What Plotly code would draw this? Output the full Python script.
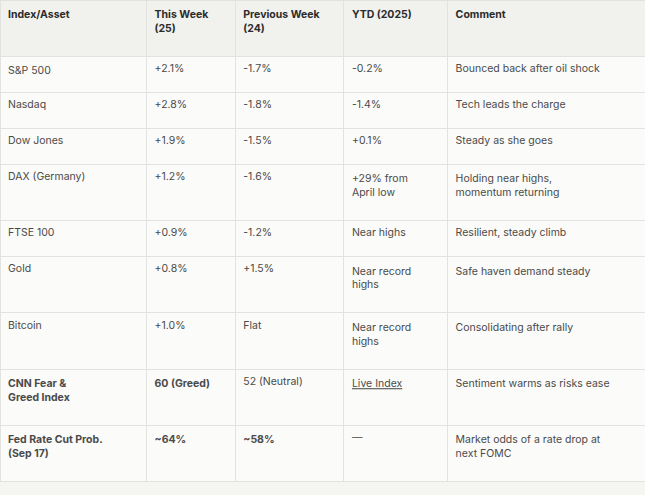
import plotly.graph_objects as go

header = ["<b>Index/Asset</b>", "<b>This Week<br>(25)</b><br> ", "<b>Previous Week<br>(24)</b>", "<b>YTD (2025)</b>", "<b>Comment</b>"]
assets = ["S&P 500", "Nasdaq", "Dow Jones", "DAX (Germany)", "FTSE 100", "Gold", "Bitcoin",
          "<b>CNN Fear &<br>Greed Index</b>", "<b>Fed Rate Cut Prob.<br>(Sep 17)</b>"]
this_week = ["+2.1%", "+2.8%", "+1.9%", "+1.2%", "+0.9%", "+0.8%", "+1.0%", "<b>60 (Greed)</b>", "<b>~64%</b>"]
prev_week = ["-1.7%", "-1.8%", "-1.5%", "-1.6%", "-1.2%", "+1.5%", "Flat", "52 (Neutral)", "<b>~58%</b>"]
ytd = ["-0.2%", "-1.4%", "+0.1%", "+29% from<br>April low", "Near highs", "Near record<br>highs",
       "Near record<br>highs", "<u>Live Index</u>", "—"]
comment = ["Bounced back after oil shock", "Tech leads the charge", "Steady as she goes",
           "Holding near highs,<br>momentum returning", "Resilient, steady climb",
           "Safe haven demand steady", "Consolidating after rally",
           "Sentiment warms as risks ease", "Market odds of a rate drop at<br>next FOMC"]
# trailing blank lines give the two-line rows their extra height
spacer = ["", "", "", "<br> ", "", "<br> <br> ", "<br> <br> ", "<br> <br> ", "<br> "]
comment = [c + s for c, s in zip(comment, spacer)]

fig = go.Figure(go.Table(
    domain=dict(x=[0, 1], y=[0, 1]),
    columnwidth=[147, 89, 109, 104, 198],
    header=dict(values=header, fill_color="#f1f1ee", line_color="#e2e2de", align="left",
                font=dict(family="Inter", size=10.5, color="#2b2b2b"), height=37),
    cells=dict(values=[assets, this_week, prev_week, ytd, comment],
               fill_color="#fbfbf9", line_color="#e2e2de", align="left",
               font=dict(family="Inter", size=10.5, color="#4a4a4a"), height=36),
))
fig.update_layout(width=645, height=495, margin=dict(l=0, r=0, t=0, b=0), paper_bgcolor="#f5f5f2")
fig.write_html("out.html", post_script="document.body.style.margin='0';",
               config={"displayModeBar": False})
